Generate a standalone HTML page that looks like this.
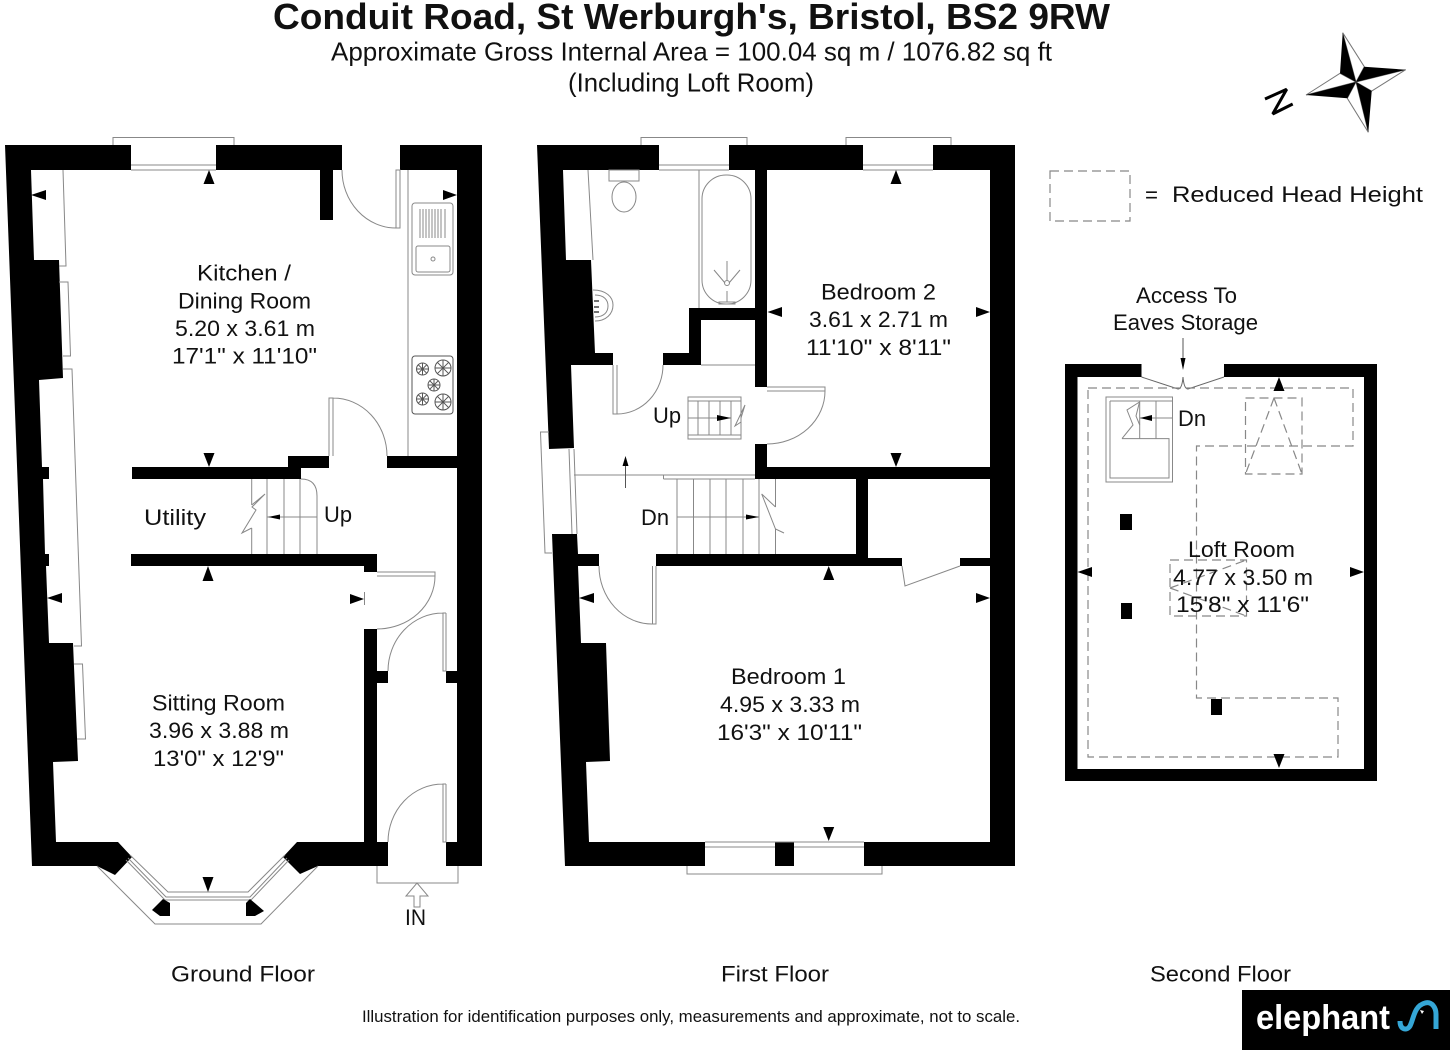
<!DOCTYPE html>
<html lang="en"><head><meta charset="utf-8"><title>Conduit Road floor plan</title>
<style>
html,body{margin:0;padding:0;background:#fff;}
svg{display:block;}
text{font-family:"Liberation Sans",sans-serif;fill:#111;font-size:22.5px;}
.l{fill:none;stroke:#888;stroke-width:1;}
.d{fill:none;stroke:#888;stroke-width:1.2;stroke-dasharray:9 5;}
.k{fill:#000;stroke:none;}
</style></head><body>
<svg width="1454" height="1056" viewBox="0 0 1454 1056" xmlns="http://www.w3.org/2000/svg">
<rect width="1454" height="1056" fill="#fff"/>

<!-- Header -->
<text x="273" y="29" style="font-size:36px;font-weight:700" textLength="837" lengthAdjust="spacingAndGlyphs">Conduit Road, St Werburgh's, Bristol, BS2 9RW</text>
<text x="331" y="60.5" style="font-size:26px" textLength="721" lengthAdjust="spacingAndGlyphs">Approximate Gross Internal Area = 100.04 sq m / 1076.82 sq ft</text>
<text x="568" y="91.5" style="font-size:26px" textLength="246" lengthAdjust="spacingAndGlyphs">(Including Loft Room)</text>

<!-- Compass -->
<g>
<path d="M1342.7,32.7L1364.3,66.7L1356,82ZM1405.7,69.7L1371.7,91L1356,82ZM1368.3,132.3L1347.3,98.3L1356,82ZM1306,95L1340,73.3L1356,82Z" fill="#fff" stroke="#777" stroke-width="1"/>
<path class="k" d="M1342.7,32.7L1356,82L1340,73.3ZM1405.7,69.7L1356,82L1364.3,66.7ZM1368.3,132.3L1356,82L1371.7,91ZM1306,95L1356,82L1347.3,98.3Z"/>
<polyline points="1265,99 1286.7,89.3 1272.7,114 1292.7,104" fill="none" stroke="#000" stroke-width="3" stroke-linejoin="bevel"/>
</g>

<!-- ===== GROUND FLOOR ===== -->
<path class="k" d="M5,145L131,145L131,170L31,170L34,260L59,260L63,378L39,380L42,467L49,467L49,479L43,479L45,554L49,554L49,566L46,566L49,643L73,643L78,761L53,762L56,842L118,842L132,857L115,875L97,866L32,866Z"/>
<path class="k" d="M216,145L342,145L342,170L333,170L333,220L320,220L320,170L216,170Z"/>
<path class="k" d="M400,145L482,145L482,866L446,866L446,842L457,842L457,683L446,683L446,671L457,671L457,468L387,468L387,456L457,456L457,170L400,170Z"/>
<path class="k" d="M297,842L364,842L364,629L377,629L377,671L388,671L388,683L377,683L377,842L388,842L388,866L318,866L300,874L283,857Z"/>
<path class="k" d="M132,467L288,467L288,456L329,456L329,468L301,468L301,479L132,479Z"/>
<path class="k" d="M131,554L377,554L377,572L364,572L364,566L131,566Z"/>
<!-- window -->
<path class="l" d="M113,145V137.5H234V145M131,165H216M131,170H216"/>
<!-- left-wall features -->
<path class="l" d="M63,170L66,266H59M59,282H68L70.5,356H63M63,369H72L81.5,646H74M74,664H82.5L85.5,739H77"/>
<!-- doors -->
<path class="l" d="M342,170A54,58 0 0 0 396,228H400V170H396V228"/>
<path class="l" d="M329,456V398H333V456M333,398A54,58 0 0 1 387,456"/>
<path class="l" d="M377,572H435V576H377M435,576A58,53 0 0 1 377,629"/>
<path class="l" d="M446,613H443V671H446V613M443,613A55,58 0 0 0 388,671"/>
<path class="l" d="M446,784H443V842H446V784M443,784A55,58 0 0 0 388,842"/>
<!-- kitchen -->
<path class="l" d="M408,170V456"/>
<rect class="l" x="412" y="203" width="41" height="72" rx="3"/>
<rect class="l" x="416" y="246" width="34" height="26" rx="2"/>
<circle class="l" cx="433" cy="259" r="2"/>
<path class="l" d="M420,209V238M423,209V238M426,209V238M429,209V238M432,209V238M435,209V238M438,209V238M441,209V238M445,209V238"/>
<rect class="l" x="412" y="356" width="41" height="58" rx="3" style="stroke:#555"/>
<g fill="none" stroke="#555" stroke-width="1">
<circle cx="422.5" cy="369" r="6"/><path d="M422.5,363V375M416.5,369H428.5M418.3,364.8L426.7,373.2M426.7,364.8L418.3,373.2"/>
<circle cx="443" cy="368" r="8"/><path d="M443,360V376M435,368H451M437.3,362.3L448.7,373.7M448.7,362.3L437.3,373.7"/>
<circle cx="434" cy="385" r="6"/><path d="M434,379V391M428,385H440M429.8,380.8L438.2,389.2M438.2,380.8L429.8,389.2"/>
<circle cx="422.5" cy="399" r="6"/><path d="M422.5,393V405M416.5,399H428.5M418.3,394.8L426.7,403.2M426.7,394.8L418.3,403.2"/>
<circle cx="443" cy="402" r="8"/><path d="M443,394V410M435,402H451M437.3,396.3L448.7,407.7M448.7,396.3L437.3,407.7"/>
</g>
<!-- ground stairs -->
<path class="l" d="M251.7,479V505M251.7,528V554M267,479V554M284,479V554M300,479V554M301,479Q317,479 317,496V554M267,517H317"/>
<polyline class="l" points="251.7,505 265,494 252,507 256,510 242,533 251.7,528"/>
<path class="k" d="M268,517L280,514.5V519.5Z"/>
<!-- bay window -->
<path class="l" d="M97,866L155,924H261L318,866"/>
<path class="l" d="M130,855L168,892H248L285,855M128,858L166,897H250L287,858M126,860L165,900H251L289,860"/>
<path class="k" d="M152,910L163,899L170,903V916H160ZM246,903L250,899L264,911L255,916H246Z"/>
<!-- entrance -->
<path class="l" d="M377,866V883H458V866"/>
<path fill="#fff" stroke="#888" stroke-width="1" d="M417,883L428,896H420V907H414V896H406Z"/>
<!-- arrows -->
<g class="k">
<path d="M209,170L203.5,184H214.5Z"/><path d="M31,195L46,190V200Z"/><path d="M457,195L443,190V200Z"/><path d="M209,467L203.5,453H214.5Z"/>
<path d="M208,566L202.5,581H213.5Z"/><path d="M47,598L62,593V603Z"/><path d="M364,599L350,594V604Z"/><path d="M208,892L202.5,877H213.5Z"/>
</g>
<path class="l" d="M364.5,592V605"/>
<text x="197" y="280.5" textLength="94" lengthAdjust="spacingAndGlyphs">Kitchen /</text>
<text x="178" y="308.5" textLength="133" lengthAdjust="spacingAndGlyphs">Dining Room</text>
<text x="175" y="336" textLength="140" lengthAdjust="spacingAndGlyphs">5.20 x 3.61 m</text>
<text x="172" y="363.5" textLength="145" lengthAdjust="spacingAndGlyphs">17'1" x 11'10"</text>
<text x="144" y="525" textLength="62" lengthAdjust="spacingAndGlyphs">Utility</text>
<text x="324" y="522" textLength="28" lengthAdjust="spacingAndGlyphs">Up</text>
<text x="152" y="710.5" textLength="133" lengthAdjust="spacingAndGlyphs">Sitting Room</text>
<text x="149" y="738" textLength="140" lengthAdjust="spacingAndGlyphs">3.96 x 3.88 m</text>
<text x="153" y="766" textLength="131" lengthAdjust="spacingAndGlyphs">13'0" x 12'9"</text>
<text x="405" y="925" textLength="21" lengthAdjust="spacingAndGlyphs">IN</text>
<text x="171" y="981.5" textLength="144" lengthAdjust="spacingAndGlyphs">Ground Floor</text>

<!-- ===== FIRST FLOOR ===== -->
<path class="k" d="M537,145L659,145L659,170L563,170L566,260L591,260L595,353L613,353L613,365L571,365L574,448L549,449Z"/>
<path class="k" d="M729,145L863,145L863,170L767,170L767,387L755,387L755,320L701,320L701,365L663,365L663,353L689,353L689,308L755,308L755,170L729,170Z"/>
<path class="k" d="M933,145L1015,145L1015,866L864,866L864,842L990,842L990,566L960,566L960,558L990,558L990,479L868,479L868,558L902,558L902,566L656,566L656,554L856,554L856,479L755,479L755,444L767,444L767,467L990,467L990,170L933,170Z"/>
<path class="k" d="M552,534L577,534L578,554L599,554L599,566L578,566L581,643L606,643L610,761L586,762L589,842L705,842L705,866L565,866Z"/>
<rect class="k" x="775" y="842" width="19" height="24"/>
<!-- windows -->
<path class="l" d="M641,145V137.5H747V145M659,165H729M659,170H729"/>
<path class="l" d="M846,145V137.5H951V145M863,165H933M863,170H933"/>
<path class="l" d="M687,866V874H882V866M705,842H864M705,847H775M794,847H864"/>
<path class="l" d="M549,432H540.5L545,553H552M569,449L572,534M574,449L577,534"/>
<!-- bathroom -->
<path class="l" d="M588,170L593,260M699,170V308"/>
<rect class="l" x="702" y="175" width="49" height="129" rx="24"/>
<circle class="l" cx="727" cy="283" r="2.5"/>
<path class="l" d="M727,261V280M714,270L725,283M740,270L729,283"/>
<path class="l" d="M727,291V302M719,302H735V304H719Z"/>
<rect class="l" x="609" y="170" width="30" height="11"/>
<ellipse class="l" cx="624" cy="197" rx="12" ry="15"/>
<path class="l" d="M593,290C606,290 613,297 613,305C613,314 606,321 595,321M595,295C604,295 608,300 608,306C608,312 604,317 595,317"/>
<path d="M594,301H599M594,307H599M594,312H599" stroke="#444" stroke-width="1.5" fill="none"/>
<!-- doors -->
<path class="l" d="M613,365V414H617V365M617,414A46,49 0 0 0 663,365"/>
<path class="l" d="M701,365H755"/>
<path class="l" d="M767,387H825V391H767M825,391A58,53 0 0 1 767,444"/>
<path class="l" d="M599,566A53,58 0 0 0 652.5,624H656V566M652.5,566V624"/>
<path class="l" d="M902,566L905,586L960,566"/>
<!-- stairs -->
<path class="l" d="M574,475H663.5M663.5,475V479M663.5,475H755M663.5,479H755"/>
<path class="l" d="M677,479V554M693.5,479V554M710,479V554M726,479V554M743,479V554M759,479V554M775.5,479V507M775.5,529V554M677,517H759"/>
<polyline class="l" points="775.5,507 761.7,494 775.5,529 784,533"/>
<path class="k" d="M759,517L746,514.5V519.5Z"/>
<rect class="l" x="688" y="397" width="53" height="42"/>
<path class="l" d="M688,401H741M688,435H741M698,401V435M709,401V435M720,401V435M731,401V435M688,418H731"/>
<polyline class="l" points="741,418 745,405 735,426 741,422"/>
<path class="k" d="M731,418L717,415V421Z"/>
<path class="l" d="M625.5,460V488" style="stroke:#555"/>
<path class="k" d="M625.5,456L622.5,466H628.5Z"/>
<!-- arrows -->
<g class="k">
<path d="M896,170L890.5,184H901.5Z"/><path d="M767.5,312L782,307V317Z"/><path d="M990,312L976,307V317Z"/><path d="M896,467L890.5,453H901.5Z"/>
<path d="M828.7,566L823.2,580H834.2Z"/><path d="M579,598L594,593V603Z"/><path d="M990,598L976,593V603Z"/><path d="M828.7,841L823.2,827H834.2Z"/>
</g>
<text x="821" y="299.5" textLength="115" lengthAdjust="spacingAndGlyphs">Bedroom 2</text>
<text x="809" y="327" textLength="139" lengthAdjust="spacingAndGlyphs">3.61 x 2.71 m</text>
<text x="806" y="355" textLength="145" lengthAdjust="spacingAndGlyphs">11'10" x 8'11"</text>
<text x="731" y="684" textLength="115" lengthAdjust="spacingAndGlyphs">Bedroom 1</text>
<text x="720" y="712" textLength="140" lengthAdjust="spacingAndGlyphs">4.95 x 3.33 m</text>
<text x="717" y="740" textLength="145" lengthAdjust="spacingAndGlyphs">16'3" x 10'11"</text>
<text x="653" y="423" textLength="28" lengthAdjust="spacingAndGlyphs">Up</text>
<text x="641" y="525" textLength="28" lengthAdjust="spacingAndGlyphs">Dn</text>
<text x="721" y="981.5" textLength="108" lengthAdjust="spacingAndGlyphs">First Floor</text>

<!-- ===== SECOND FLOOR ===== -->
<path class="k" fill-rule="evenodd" d="M1065,364H1141.5V377H1077.5V769H1364V377H1224V364H1377V781H1065Z"/>
<path class="l" d="M1141.5,377L1178,389Q1182,389 1183,377Q1184,389 1188,389L1224,377" style="stroke:#666"/>
<path class="l" d="M1183,338V360" style="stroke:#555"/>
<path class="k" d="M1183,370L1180.5,358H1185.5Z"/>
<path class="d" d="M1088,388H1353V446H1196.5V698H1338V757H1088Z"/>
<path class="d" d="M1245.5,398H1302V474H1245.5ZM1274,398L1245.5,474M1274,398L1302,474"/>
<path class="d" d="M1170,560H1246.5V616H1170ZM1170,588L1246.5,560M1170,588L1246.5,616"/>
<!-- loft stairs -->
<rect class="l" x="1106" y="397" width="66.5" height="85"/>
<path class="l" d="M1110,401H1172.5M1110,401V478H1169V438.6H1122M1139.7,401V438.6M1156,401V438.6M1140,418H1172.5"/>
<polyline class="l" points="1139.5,402 1127,410 1133,425 1122,438.6"/>
<path class="l" d="M1139.5,402L1136,416L1139.7,425"/>
<path class="k" d="M1140,418L1152,415V421Z"/>
<!-- blocks -->
<rect class="k" x="1120" y="514" width="12" height="16"/>
<rect class="k" x="1121" y="603" width="11" height="16"/>
<rect class="k" x="1211" y="699" width="11" height="16"/>
<!-- arrows -->
<g class="k">
<path d="M1279,377L1273.5,391H1284.5Z"/><path d="M1077.5,572L1092,567V577Z"/><path d="M1364,572L1350,567V577Z"/><path d="M1279,768L1273.5,754H1284.5Z"/>
</g>
<text x="1136" y="303" textLength="101" lengthAdjust="spacingAndGlyphs">Access To</text>
<text x="1113" y="330" textLength="145" lengthAdjust="spacingAndGlyphs">Eaves Storage</text>
<text x="1178" y="426" textLength="28" lengthAdjust="spacingAndGlyphs">Dn</text>
<text x="1188" y="557" textLength="107" lengthAdjust="spacingAndGlyphs">Loft Room</text>
<text x="1173" y="585" textLength="140" lengthAdjust="spacingAndGlyphs">4.77 x 3.50 m</text>
<text x="1176" y="612" textLength="133" lengthAdjust="spacingAndGlyphs">15'8" x 11'6"</text>
<text x="1150" y="981.5" textLength="141" lengthAdjust="spacingAndGlyphs">Second Floor</text>

<!-- Legend -->
<rect class="d" x="1050" y="171" width="80" height="50"/>
<text x="1145" y="202" textLength="13" lengthAdjust="spacingAndGlyphs">=</text>
<text x="1172" y="202" textLength="251" lengthAdjust="spacingAndGlyphs">Reduced Head Height</text>

<!-- Footer -->
<text x="362" y="1022" style="font-size:16.5px" textLength="658" lengthAdjust="spacingAndGlyphs">Illustration for identification purposes only, measurements and approximate, not to scale.</text>

<!-- Logo -->
<rect x="1242" y="990" width="208" height="60" fill="#000"/>
<text x="1256" y="1029" style="font-size:34px;font-weight:700;fill:#fff" textLength="134" lengthAdjust="spacingAndGlyphs">elephant</text>
<path d="M1400,1021C1400,1030 1407,1031 1410,1026C1414,1018 1414,1006 1425,1003C1432,1001 1436,1008 1436,1014V1029" fill="none" stroke="#35a6d6" stroke-width="5"/>
<path d="M1420,1010L1424,1011L1422,1014Z" fill="#fff"/>
</svg>
</body></html>
